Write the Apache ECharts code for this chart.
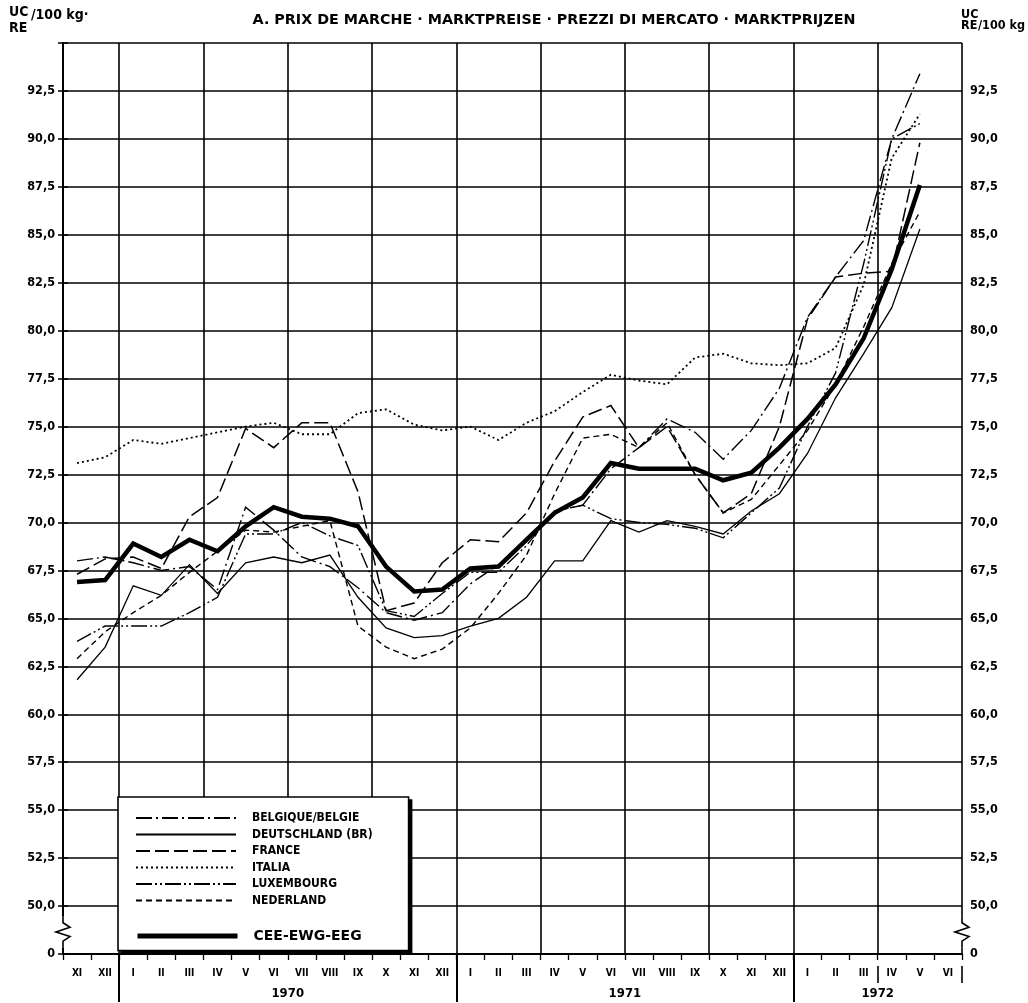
<!DOCTYPE html>
<html><head><meta charset="utf-8">
<script src="https://cdn.jsdelivr.net/npm/echarts@6/dist/echarts.min.js"></script>
<style>html,body{margin:0;padding:0;background:#fff}#c{width:1028px;height:1003px}</style>
</head><body><div id="c"></div>
<script>
// ---- data ----
const months = ['XI','XII','I','II','III','IV','V','VI','VII','VIII','IX','X','XI','XII',
  'I','II','III','IV','V','VI','VII','VIII','IX','X','XI','XII','I','II','III','IV','V','VI'];
const monthYears = ['1969','1969','1970','1970','1970','1970','1970','1970','1970','1970','1970','1970','1970','1970',
  '1971','1971','1971','1971','1971','1971','1971','1971','1971','1971','1971','1971','1972','1972','1972','1972','1972','1972'];
const yearLabels = ['1970','1971','1972'];
const seriesNames = ['BELGIQUE/BELGIE','DEUTSCHLAND (BR)','FRANCE','ITALIA','LUXEMBOURG','NEDERLAND','CEE-EWG-EEG'];
const belgique = [68.0,68.2,67.9,67.5,67.7,66.5,70.8,69.6,68.2,67.7,66.6,65.3,64.9,65.3,
  66.8,67.8,69.0,70.6,70.9,72.8,73.9,75.4,74.7,73.3,74.8,77.0,80.7,82.8,84.7,90.0,93.4,null];
const deutschland = [61.8,63.5,66.7,66.2,67.8,66.3,67.9,68.2,67.9,68.3,66.1,64.5,64.0,64.1,
  64.6,65.0,66.1,68.0,68.0,70.1,69.5,70.1,69.8,69.4,70.6,71.5,73.6,76.5,78.8,81.2,85.3,null];
const france = [67.3,68.1,68.2,67.6,70.3,71.3,74.9,73.9,75.2,75.2,71.6,65.4,65.8,67.9,
  69.1,69.0,70.5,73.2,75.5,76.1,73.9,75.0,72.5,70.5,71.5,75.0,80.6,82.8,83.0,83.1,89.8,null];
const italia = [73.1,73.4,74.3,74.1,74.4,74.7,75.0,75.2,74.6,74.6,75.7,75.9,75.1,74.8,
  75.0,74.3,75.2,75.8,76.8,77.7,77.4,77.2,78.6,78.8,78.3,78.2,78.3,79.1,82.4,89.0,91.3,null];
const luxembourg = [63.8,64.6,64.6,64.6,65.3,66.1,69.4,69.4,70.0,69.3,68.8,65.4,65.1,66.3,
  67.4,67.4,68.8,70.6,70.9,70.2,70.0,69.9,69.7,69.2,70.5,71.8,75.0,77.8,83.5,90.0,90.8,null];
const nederland = [62.9,64.3,65.3,66.2,67.4,68.5,69.6,69.5,69.8,70.1,64.6,63.5,62.9,63.4,
  64.5,66.3,68.3,71.5,74.4,74.6,73.9,75.2,72.5,70.5,71.2,73.0,74.8,77.2,80.2,83.5,86.2,null];
const cee = [66.9,67.0,68.9,68.2,69.1,68.5,69.8,70.8,70.3,70.2,69.8,67.7,66.4,66.5,
  67.6,67.7,69.1,70.5,71.3,73.1,72.8,72.8,72.8,72.2,72.6,73.9,75.4,77.2,79.6,83.2,87.6,null];
const yAxisMin = 47.5, yAxisMax = 95, yStep = 2.5; // 47.5 is drawn as the broken "0"

// ---- derived ----
const yearCenters = yearLabels.map(y => {
  const first = monthYears.indexOf(y), last = monthYears.lastIndexOf(y);
  return (first + last + 1) / 2;
});
const yearDividers = [];
for (let i = 1; i < monthYears.length; i++) if (monthYears[i] !== monthYears[i-1]) yearDividers.push(i);

const FONT = "'DejaVu Sans Condensed','Liberation Sans',sans-serif";
const FONTW = "'DejaVu Sans','Liberation Sans',sans-serif";
const fmtY = v => Math.abs(v - yAxisMin) < 1e-6 ? '0' : (v > yAxisMax - 1e-6 ? '' : v.toFixed(1).replace('.', ','));

const styles = [
  {type:[16,4,2,4], width:1.4},
  {type:'solid', width:1.3},
  {type:[14,5], width:1.5},
  {type:[2,3], width:1.8},
  {type:[16,3,2,3,2,3], width:1.4},
  {type:[6,4], width:1.4},
  {type:'solid', width:4.5}
];
const datas = [belgique, deutschland, france, italia, luxembourg, nederland, cee];

const chart = echarts.init(document.getElementById('c'), null, {renderer:'canvas'});
const option = {
  animation: false,
  backgroundColor: '#fff',
  textStyle: {fontFamily: FONT, fontWeight: 'bold', color: '#000'},
  title: {
    text: 'A. PRIX DE MARCHE · MARKTPREISE · PREZZI DI MERCATO · MARKTPRIJZEN',
    left: 549, top: 8, textAlign: 'center',
    textStyle: {fontFamily: FONTW, fontWeight: 'bold', fontSize: 14.3, color: '#000'}
  },
  grid: {left: 63, right: 66, top: 43, bottom: 49, containLabel: false},
  xAxis: [
    {
      type: 'category', data: months, boundaryGap: true, position: 'bottom',
      axisLine: {show: true, lineStyle: {color: '#000', width: 2}},
      axisTick: {show: true, interval: 0, length: 6, lineStyle: {color: '#000', width: 1.3}},
      axisLabel: {interval: 0, margin: 14, fontSize: 10, fontWeight: 'bold', fontFamily: FONT, color: '#000', hideOverlap: false},
      splitLine: {show: true, interval: (i) => i % 3 === 2, lineStyle: {color: '#000', width: 1.6}}
    },
    {
      type: 'value', min: 0, max: months.length, position: 'bottom',
      axisLine: {show: false}, splitLine: {show: false},
      axisTick: {show: true, customValues: yearDividers, length: 48, inside: false, lineStyle: {color: '#000', width: 2}},
      axisLabel: {show: true, customValues: yearCenters, margin: 33, fontSize: 13, fontWeight: 'bold', fontFamily: FONT, color: '#000',
        formatter: v => { const k = yearCenters.findIndex(c => Math.abs(c - v) < 1e-6); return k >= 0 ? yearLabels[k] : ''; }}
    },
    {
      type: 'value', min: 0, max: months.length, position: 'bottom', offset: 12,
      axisLine: {show: false}, splitLine: {show: false}, axisLabel: {show: false},
      axisTick: {show: true, customValues: [29, 32], length: 17, lineStyle: {color: '#000', width: 1.6}}
    }
  ],
  yAxis: [
    {
      type: 'value', min: yAxisMin, max: yAxisMax, interval: yStep, position: 'left',
      axisLine: {show: true, lineStyle: {color: '#000', width: 2}},
      axisTick: {show: true, length: 5, lineStyle: {color: '#000', width: 1.5}},
      axisLabel: {formatter: fmtY, margin: 8, fontSize: 12.5, fontWeight: 'bold', fontFamily: FONT, color: '#000'},
      splitLine: {show: true, lineStyle: {color: '#000', width: 1.6}}
    },
    {
      type: 'value', min: yAxisMin, max: yAxisMax, interval: yStep, position: 'right',
      axisLine: {show: true, lineStyle: {color: '#000', width: 2}},
      axisTick: {show: true, length: 5, lineStyle: {color: '#000', width: 1.5}},
      axisLabel: {formatter: fmtY, margin: 8, fontSize: 12.5, fontWeight: 'bold', fontFamily: FONT, color: '#000'},
      splitLine: {show: false}
    }
  ],
  legend: [
    {
      data: seriesNames.slice(0, 6), orient: 'vertical', left: 118, top: 797, z: 6,
      padding: [15, 36, 44, 17], itemWidth: 100, itemHeight: 12, itemGap: 4.5,
      backgroundColor: '#fff', borderColor: '#000', borderWidth: 1.6,
      selectedMode: false,
      itemStyle: {opacity: 0},
      textStyle: {fontFamily: FONT, fontWeight: 'bold', fontSize: 12, color: '#000', padding: [0,0,0,11]}
    },
    {
      data: seriesNames.slice(6), orient: 'vertical', left: 135, top: 929, z: 20,
      padding: 0, itemWidth: 100, itemHeight: 14, selectedMode: false,
      itemStyle: {opacity: 0},
      lineStyle: {width: 5, color: '#000', type: 'solid'},
      textStyle: {fontFamily: FONTW, fontWeight: 'bold', fontSize: 14, color: '#000', padding: [0,0,0,11]}
    }
  ],
  series: seriesNames.map((n, k) => ({
    name: n, type: 'line', data: datas[k], symbol: 'none', smooth: false,
    xAxisIndex: 0, yAxisIndex: 0, z: k === 6 ? 5 : 3,
    lineStyle: {color: '#000', width: styles[k].width, type: styles[k].type, cap: 'butt', join: 'miter'},
    emphasis: {disabled: true}
  })),
  graphic: [
    {type:'text', left: 9, top: 5, style:{text:'UC', font:'bold 14px ' + FONT, fill:'#000'}},
    {type:'text', left: 31, top: 8, style:{text:'/100 kg·', font:'bold 14px ' + FONT, fill:'#000'}},
    {type:'text', left: 9, top: 21, style:{text:'RE', font:'bold 14px ' + FONT, fill:'#000'}},
    {type:'text', left: 961, top: 8, style:{text:'UC', font:'bold 12.5px ' + FONT, fill:'#000'}},
    {type:'text', left: 961, top: 19, style:{text:'RE', font:'bold 12.5px ' + FONT, fill:'#000'}},
    {type:'text', left: 978, top: 19, style:{text:'/100 kg', font:'bold 12.5px ' + FONT, fill:'#000'}}
  ]
};
chart.setOption(option);

// legend box drop shadow (thick bottom/right edge) placed from the rendered legend box,
// and axis-break zigzags on both value axes, positioned through the axis scales
const extra = [];
let box = null;
try {
  const lv = chart.getModel().getComponent('legend', 0);
  const view = chart.getViewOfComponentModel(lv);
  const r = view.group.getBoundingRect();
  box = {x: view.group.x + r.x, y: view.group.y + r.y, w: r.width, h: r.height};
} catch (e) { box = null; }
if (box) {
  extra.push({type:'rect', z: 5, shape:{x: box.x + 3, y: box.y + 3, width: box.w, height: box.h}, style:{fill:'#000'}});
}
const yTop = chart.convertToPixel({yAxisIndex: 0}, yAxisMin + 1.95);
const yBot = chart.convertToPixel({yAxisIndex: 0}, yAxisMin + 0.35);
const xs = [chart.convertToPixel({xAxisIndex: 1}, 0), chart.convertToPixel({xAxisIndex: 1}, months.length)];
xs.forEach(x => {
  const h = yBot - yTop;
  extra.push({type:'rect', z: 100, shape:{x: x - 3, y: yTop, width: 6, height: h}, style:{fill:'#fff'}});
  extra.push({type:'polyline', z: 101, shape:{points:[
    [x, yTop], [x, yTop + h*0.2], [x + 7, yTop + h*0.35], [x - 7, yTop + h*0.5], [x + 7, yTop + h*0.65], [x, yTop + h*0.8], [x, yBot]
  ]}, style:{stroke:'#000', lineWidth: 1.6, fill: null}});
});
chart.setOption({graphic: option.graphic.concat(extra)});
</script></body></html>
